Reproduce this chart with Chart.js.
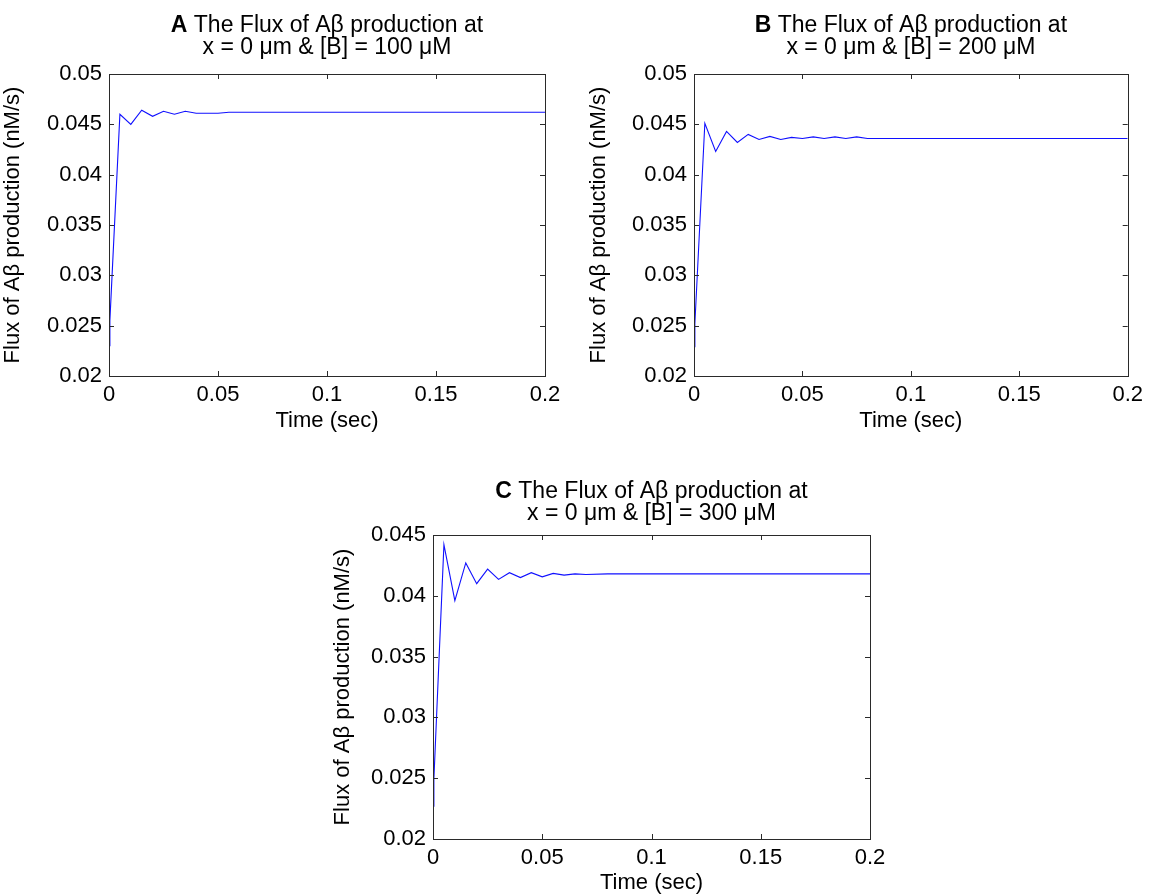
<!DOCTYPE html>
<html>
<head>
<meta charset="utf-8">
<script src="https://cdn.jsdelivr.net/npm/chart.js@4.4.1/dist/chart.umd.min.js"></script>
<style>
  body { margin: 0; background: #fff; width: 1149px; height: 896px; position: relative; overflow: hidden; }
  canvas { position: absolute; }
</style>
</head>
<body>
<canvas id="cA" width="575" height="434" style="left:0;top:0"></canvas>
<canvas id="cB" width="563" height="434" style="left:586px;top:0"></canvas>
<canvas id="cC" width="572" height="441" style="left:330px;top:455px"></canvas>
<script>
// time points (sec) and flux values (nM/s)
const timeA = [0, 0.0004, 0.005, 0.01, 0.015, 0.02, 0.025, 0.03, 0.035, 0.04, 0.045, 0.05, 0.055, 0.2]
const fluxA = [0.0230, 0.0255, 0.0460, 0.0450, 0.0464, 0.0458, 0.0463, 0.0460, 0.0463, 0.0461, 0.0461, 0.0461, 0.0462, 0.0462]

const timeB = [0, 0.0004, 0.005, 0.01, 0.015, 0.02, 0.025, 0.03, 0.035, 0.04, 0.045, 0.05, 0.055, 0.06, 0.065, 0.07, 0.075, 0.08, 0.2]
const fluxB = [0.0229, 0.0252, 0.0451, 0.0423, 0.0443, 0.0432, 0.0440, 0.0435, 0.0438, 0.0435, 0.0437, 0.0436, 0.04375, 0.0436, 0.04375, 0.0436, 0.04375, 0.0436, 0.0436]

const timeC = [0, 0.0004, 0.005, 0.01, 0.015, 0.02, 0.025, 0.03, 0.035, 0.04, 0.045, 0.05, 0.055, 0.06, 0.065, 0.07, 0.08, 0.2]
const fluxC = [0.0227, 0.0249, 0.0442, 0.0396, 0.0427, 0.0410, 0.0422, 0.04135, 0.0419, 0.0415, 0.0419, 0.04156, 0.04184, 0.0417, 0.0418, 0.04175, 0.0418, 0.0418]

const xTicks = [0, 0.05, 0.1, 0.15, 0.2]
const yTicksAB = [0.02, 0.025, 0.03, 0.035, 0.04, 0.045, 0.05]
const yTicksC = [0.02, 0.025, 0.03, 0.035, 0.04, 0.045]

const titleText = " The Flux of A\u03b2 production at"
const subTitles = ["x = 0 \u03bcm & [B] = 100 \u03bcM", "x = 0 \u03bcm & [B] = 200 \u03bcM", "x = 0 \u03bcm & [B] = 300 \u03bcM"]
const yTitle = "Flux of A\u03b2 production (nM/s)"
const xTitle = "Time (sec)"

const FONT = '"Liberation Sans", Arial, Helvetica, sans-serif'

// box round the plot with inward ticks on all four sides (matlab style)
const frame = {
  id: 'frame',
  afterDatasetsDraw(chart) {
    const {ctx, chartArea: a, scales: {x, y}} = chart
    ctx.save()
    ctx.strokeStyle = '#2a2a2a'
    ctx.lineWidth = 1
    ctx.strokeRect(Math.round(a.left) + 0.5, Math.round(a.top) + 0.5, Math.round(a.width), Math.round(a.height))
    ctx.beginPath()
    x.ticks.forEach(t => {
      const px = Math.round(x.getPixelForValue(t.value)) + 0.5
      ctx.moveTo(px, a.bottom); ctx.lineTo(px, a.bottom - 5)
      ctx.moveTo(px, a.top); ctx.lineTo(px, a.top + 5)
    })
    y.ticks.forEach(t => {
      const py = Math.round(y.getPixelForValue(t.value)) + 0.5
      ctx.moveTo(a.left, py); ctx.lineTo(a.left + 5, py)
      ctx.moveTo(a.right, py); ctx.lineTo(a.right - 5, py)
    })
    ctx.stroke()
    ctx.restore()
  }
}

// two line title with a bold panel letter
const panelTitle = {
  id: 'panelTitle',
  afterDraw(chart, args, opts) {
    const {ctx, chartArea: a} = chart
    const cx = (a.left + a.right) / 2
    const base = a.top + (opts.shift || 0)
    ctx.save()
    ctx.fillStyle = '#000'
    ctx.textBaseline = 'alphabetic'
    ctx.font = 'bold 23px ' + FONT
    const wL = ctx.measureText(opts.letter).width
    ctx.font = '23px ' + FONT
    const wT = ctx.measureText(titleText).width
    let x0 = cx - (wL + wT) / 2
    ctx.textAlign = 'left'
    ctx.font = 'bold 23px ' + FONT
    ctx.fillText(opts.letter, x0, base - 42)
    ctx.font = '23px ' + FONT
    ctx.fillText(titleText, x0 + wL, base - 42)
    ctx.textAlign = 'center'
    ctx.fillText(opts.sub, cx, base - 20)
    ctx.restore()
  }
}

function makeChart(id, times, flux, yTicks, letter, sub, shift, pad, yW, xH) {
  const ctx = document.getElementById(id).getContext('2d')
  return new Chart(ctx, {
    type: 'line',
    data: {
      datasets: [{
        data: times.map((t, i) => ({x: t, y: flux[i]})),
        borderColor: '#1010ff',
        borderWidth: 1.1,
        pointRadius: 0,
        tension: 0,
        fill: false
      }]
    },
    options: {
      responsive: false,
      animation: false,
      layout: {padding: pad},
      plugins: {
        legend: {display: false},
        tooltip: {enabled: false},
        panelTitle: {letter, sub, shift}
      },
      scales: {
        x: {
          type: 'linear',
          min: xTicks[0],
          max: xTicks[xTicks.length - 1],
          afterBuildTicks: s => { s.ticks = xTicks.map(v => ({value: v})) },
          afterFit: s => { s.height = xH },
          grid: {display: false, drawTicks: false},
          border: {display: false},
          ticks: {
            padding: 6,
            color: '#000',
            font: {family: FONT, size: 22},
            maxRotation: 0,
            callback: v => String(+v.toFixed(3))
          },
          title: {display: true, text: xTitle, color: '#000', padding: 0, font: {family: FONT, size: 22}}
        },
        y: {
          type: 'linear',
          min: yTicks[0],
          max: yTicks[yTicks.length - 1],
          afterBuildTicks: s => { s.ticks = yTicks.map(v => ({value: v})) },
          afterFit: s => { s.width = yW },
          grid: {display: false, drawTicks: false},
          border: {display: false},
          ticks: {
            padding: 7,
            color: '#000',
            font: {family: FONT, size: 22},
            callback: v => String(+v.toFixed(3))
          },
          title: {display: true, text: yTitle, color: '#000', padding: 0, font: {family: FONT, size: 22}}
        }
      }
    },
    plugins: [frame, panelTitle]
  })
}

makeChart('cA', timeA, fluxA, yTicksAB, 'A', subTitles[0], 0, {left: 0, top: 74, right: 30, bottom: 0}, 109, 58)
makeChart('cB', timeB, fluxB, yTicksAB, 'B', subTitles[1], 0, {left: 0, top: 74, right: 19, bottom: 0}, 108, 58)
makeChart('cC', timeC, fluxC, yTicksC, 'C', subTitles[2], 5, {left: 0, top: 80, right: 32, bottom: 0}, 103, 57)
</script>
</body>
</html>
